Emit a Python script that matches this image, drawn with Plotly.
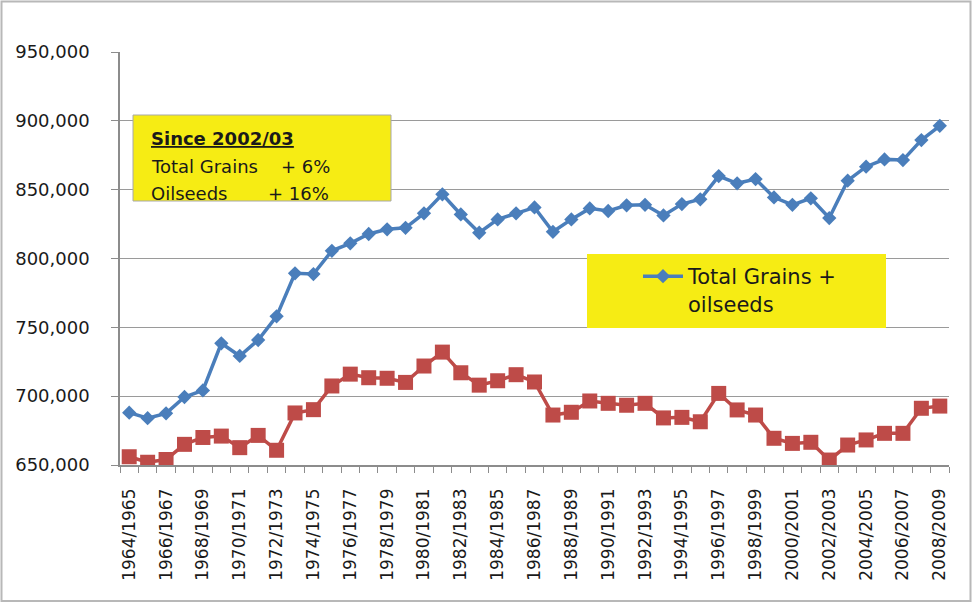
import plotly.graph_objects as go

years = [
    "1964/1965", "1965/1966", "1966/1967", "1967/1968", "1968/1969", "1969/1970",
    "1970/1971", "1971/1972", "1972/1973", "1973/1974", "1974/1975", "1975/1976",
    "1976/1977", "1977/1978", "1978/1979", "1979/1980", "1980/1981", "1981/1982",
    "1982/1983", "1983/1984", "1984/1985", "1985/1986", "1986/1987", "1987/1988",
    "1988/1989", "1989/1990", "1990/1991", "1991/1992", "1992/1993", "1993/1994",
    "1994/1995", "1995/1996", "1996/1997", "1997/1998", "1998/1999", "1999/2000",
    "2000/2001", "2001/2002", "2002/2003", "2003/2004", "2004/2005", "2005/2006",
    "2006/2007", "2007/2008", "2008/2009",
]

grains_oilseeds = [
    688000, 684000, 687500, 699400, 704200, 738400, 729200, 740800, 758000,
    789200, 788700, 805600, 811000, 817800, 821200, 822300, 832800, 846600,
    832000, 818700, 828400, 832800, 837100, 819400, 828400, 836400, 834500,
    838600, 839000, 831300, 839500, 843000, 859900, 854600, 857700, 844400,
    839000, 843700, 829400, 856500, 866700, 872000, 871500, 886000, 896400,
]

total_grains = [
    656000, 652000, 654000, 665000, 670000, 671000, 662600, 671500, 660700,
    687800, 690200, 707400, 716000, 713400, 713000, 710000, 721900, 732000,
    717000, 708000, 711200, 715600, 710300, 686300, 688300, 696500, 694800,
    693400, 694800, 684200, 684600, 681400, 702000, 690000, 686300, 669400,
    665700, 666500, 653600, 664500, 668200, 673000, 673000, 691200, 692800,
]

tick_text = [y if i % 2 == 0 else "" for i, y in enumerate(years)]

BLUE = "#4A7EBB"
RED = "#BE4B48"
YELLOW = "#F6EC14"
FONT = "DejaVu Sans"

W, H = 972, 604
L, R, T, B = 120, 23, 52, 139
PW, PH = W - L - R, H - T - B


def px(x):
    return (x - L) / PW


def py(y):
    return (H - B - y) / PH


fig = go.Figure()

fig.add_trace(go.Scatter(
    x=years, y=total_grains, mode="lines+markers", name="Total Grains",
    line=dict(color=RED, width=3.5),
    marker=dict(symbol="square", size=15, color=RED),
    showlegend=False,
))
fig.add_trace(go.Scatter(
    x=years, y=grains_oilseeds, mode="lines+markers", name="Total Grains +<br>oilseeds",
    line=dict(color=BLUE, width=3.5),
    marker=dict(symbol="diamond", size=11, color=BLUE),
))

shapes = [
    # outer frame
    dict(type="rect", xref="paper", yref="paper",
         x0=px(1.5), x1=px(970.5), y0=py(601), y1=py(1.5),
         line=dict(color="#B8B8B8", width=2), fillcolor="rgba(0,0,0,0)", layer="below"),
    # note box
    dict(type="rect", xref="paper", yref="paper",
         x0=px(133), x1=px(391), y0=py(201), y1=py(115),
         line=dict(color="#A8A8A8", width=1), fillcolor=YELLOW, layer="above"),
    # legend box
    dict(type="rect", xref="paper", yref="paper",
         x0=px(587), x1=px(886), y0=py(328), y1=py(254),
         line=dict(width=0), fillcolor=YELLOW, layer="above"),
]

ann_font = dict(family=FONT, size=18, color="#1A1A1A")
annotations = [
    dict(text="<b><u>Since 2002/03</u></b>", x=px(149), y=py(138)),
    dict(text="Total Grains", x=px(149), y=py(166)),
    dict(text="+ 6%", x=px(279), y=py(166)),
    dict(text="Oilseeds", x=px(149), y=py(193)),
    dict(text="+ 16%", x=px(266), y=py(193)),
]
annotations = [dict(a, xref="paper", yref="paper", xanchor="left", yanchor="middle",
                    showarrow=False, font=ann_font) for a in annotations]

fig.update_layout(
    width=W, height=H,
    margin=dict(l=L, r=R, t=T, b=B, pad=0),
    paper_bgcolor="white", plot_bgcolor="white",
    font=dict(family=FONT, color="#1A1A1A"),
    shapes=shapes,
    annotations=annotations,
    legend=dict(
        x=px(638), y=py(256), xanchor="left", yanchor="top",
        bgcolor="rgba(0,0,0,0)", borderwidth=0,
        font=dict(family=FONT, size=21, color="#1A1A1A"),
        valign="top", itemwidth=40,
    ),
    xaxis=dict(
        type="category", tickvals=years, ticktext=tick_text,
        tickangle=-90, tickson="boundaries",
        ticks="outside", ticklen=6, tickcolor="#8C8C8C", tickwidth=1,
        showline=True, linecolor="#8C8C8C", linewidth=1.5,
        showgrid=False, zeroline=False,
        tickfont=dict(family=FONT, size=17, color="#1A1A1A"),
        ticklabelstandoff=15,
        range=[-0.5, len(years) - 0.5],
    ),
    yaxis=dict(
        range=[650000, 950000], dtick=50000, tick0=650000,
        tickformat=",d",
        ticks="outside", ticklen=7, tickcolor="#8C8C8C", tickwidth=1,
        showline=True, linecolor="#8C8C8C", linewidth=1.5,
        showgrid=True, gridcolor="#9A9A9A", gridwidth=1,
        zeroline=False,
        tickfont=dict(family=FONT, size=18, color="#1A1A1A"),
        ticklabelstandoff=18,
    ),
)

fig.write_html(
    "out.html",
    config={"displayModeBar": False},
    post_script="document.body.style.margin='0';",
)
